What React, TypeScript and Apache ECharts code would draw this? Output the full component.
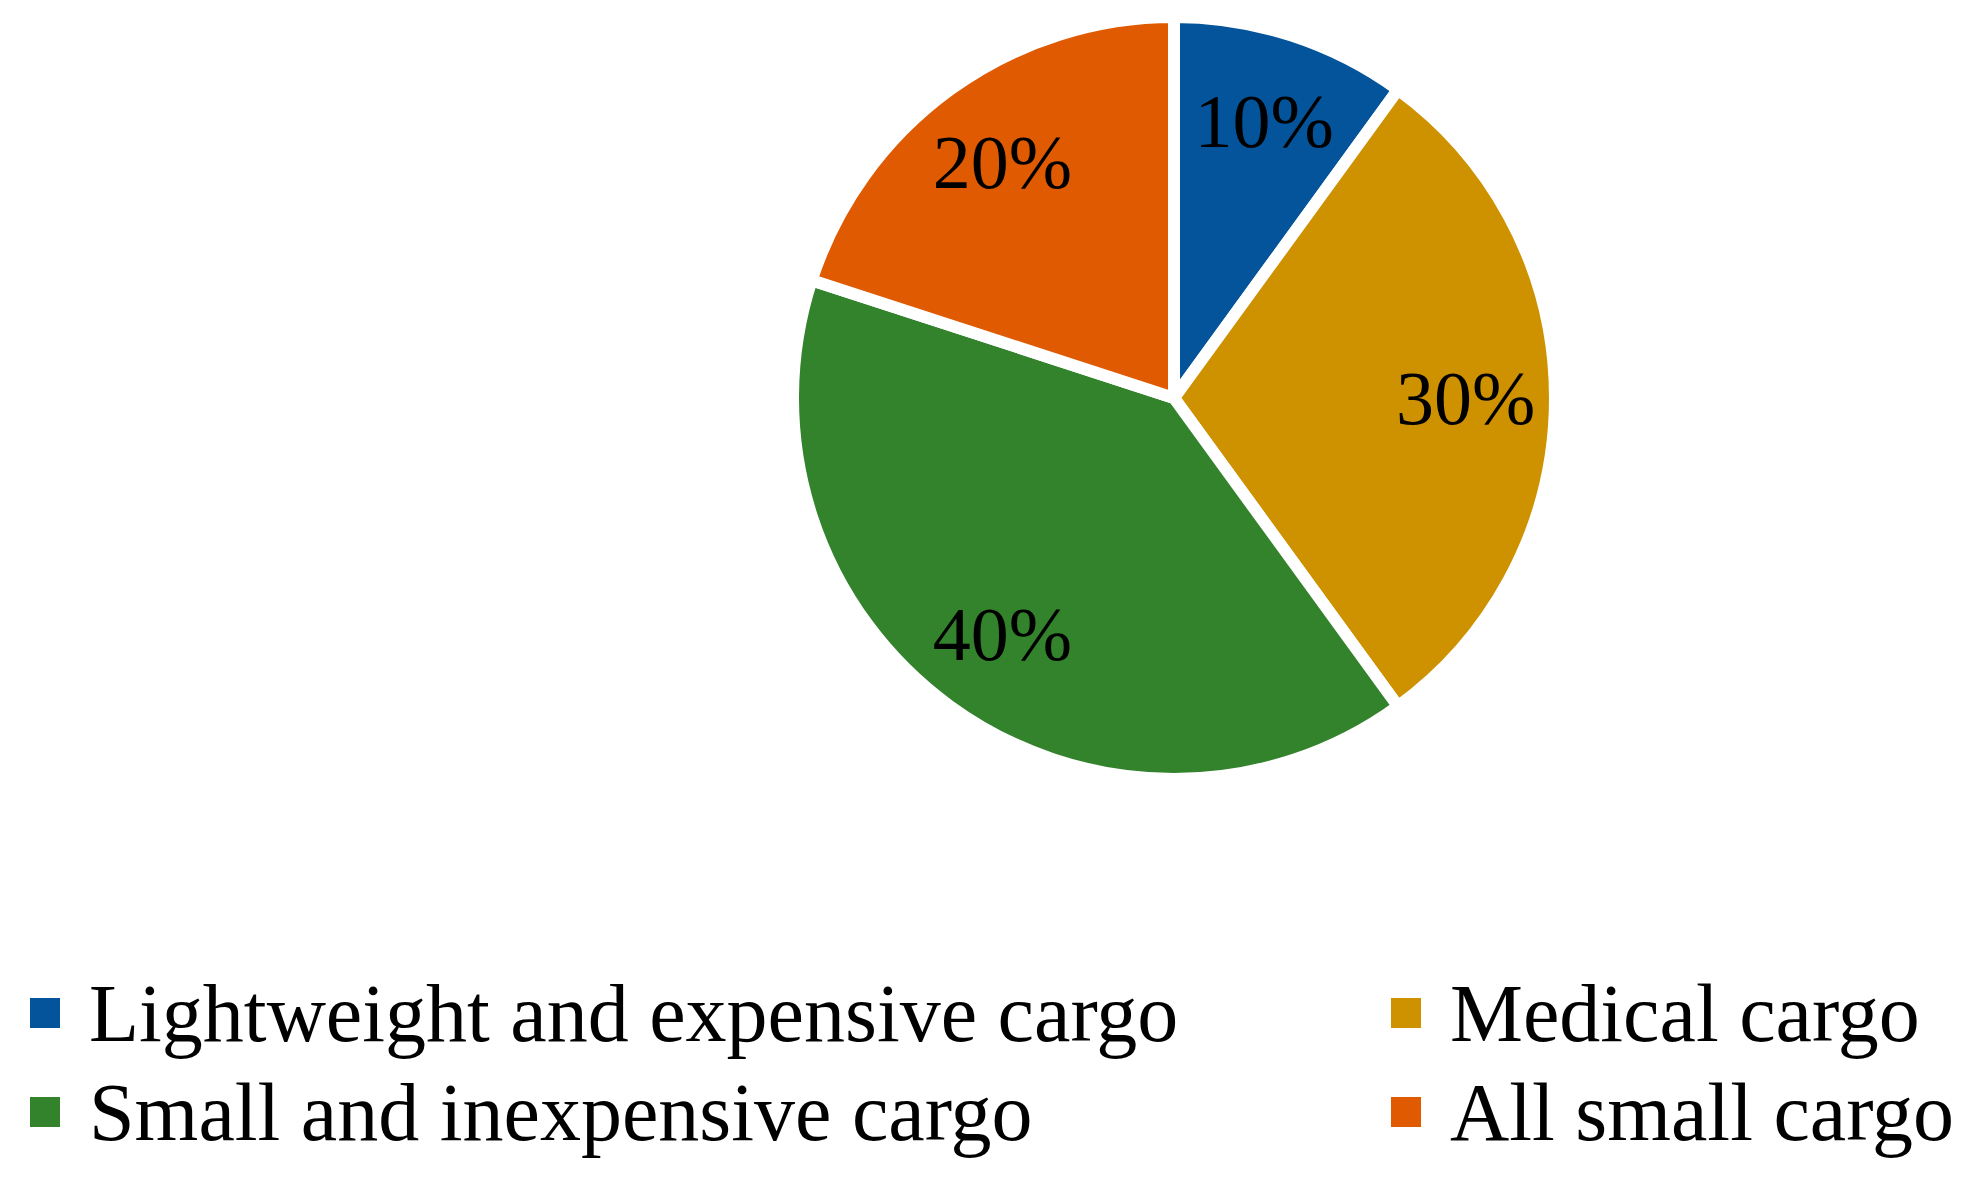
import React, { useEffect, useRef } from "react";
import * as echarts from "echarts";

const categories = [
  "Lightweight and expensive cargo",
  "Medical cargo",
  "Small and inexpensive cargo",
  "All small cargo",
];
const shares = [10, 30, 40, 20];
const colors = ["#03549B", "#CE9100", "#33822C", "#E05A02"];
const legendLeftColumn = ["Lightweight and expensive cargo", "Small and inexpensive cargo"];
const legendRightColumn = ["Medical cargo", "All small cargo"];

const FONT = "'Liberation Serif', 'Times New Roman', serif";

export default function App() {
  const ref = useRef<HTMLDivElement>(null);
  useEffect(() => {
    document.body.style.margin = "0";
    const chart = echarts.init(ref.current!, undefined, { renderer: "svg" });
    const data = categories.map((name, i) => ({
      name,
      value: shares[i],
      itemStyle: { color: colors[i] },
    }));
    const center = [1174, 398];
    const R = 375;
    const gap = 12;
    const legendCommon = {
      orient: "vertical" as const,
      top: 972,
      padding: 0,
      icon: "rect",
      itemWidth: 32,
      itemHeight: 32,
      itemGap: 17,
      selectedMode: false,
      textStyle: {
        fontFamily: FONT,
        fontSize: 82,
        lineHeight: 80,
        color: "#000",
        padding: [0, 0, 0, 23],
      },
    };
    chart.setOption({
      animation: false,
      backgroundColor: "#fff",
      legend: [
        { ...legendCommon, left: 28, data: legendLeftColumn },
        { ...legendCommon, left: 1389, data: legendRightColumn },
      ],
      series: [
        {
          type: "pie",
          center,
          radius: [0, R + gap / 2],
          startAngle: 90,
          clockwise: true,
          data,
          label: { show: false },
          labelLine: { show: false },
          itemStyle: { borderColor: "#fff", borderWidth: gap },
          emphasis: { disabled: true },
        },
        {
          type: "pie",
          center,
          radius: [R * 0.54, R],
          startAngle: 90,
          clockwise: true,
          silent: true,
          legendHoverLink: false,
          data: categories.map((name, i) => ({ name, value: shares[i] })),
          itemStyle: { color: "rgba(0,0,0,0)", borderWidth: 0 },
          label: {
            show: true,
            position: "inside",
            formatter: "{d}%",
            fontFamily: FONT,
            fontSize: 76,
            color: "#000",
          },
          labelLine: { show: false },
          emphasis: { disabled: true },
        },
      ],
    });
    return () => chart.dispose();
  }, []);
  return <div ref={ref} style={{ width: 1980, height: 1183 }} />;
}
